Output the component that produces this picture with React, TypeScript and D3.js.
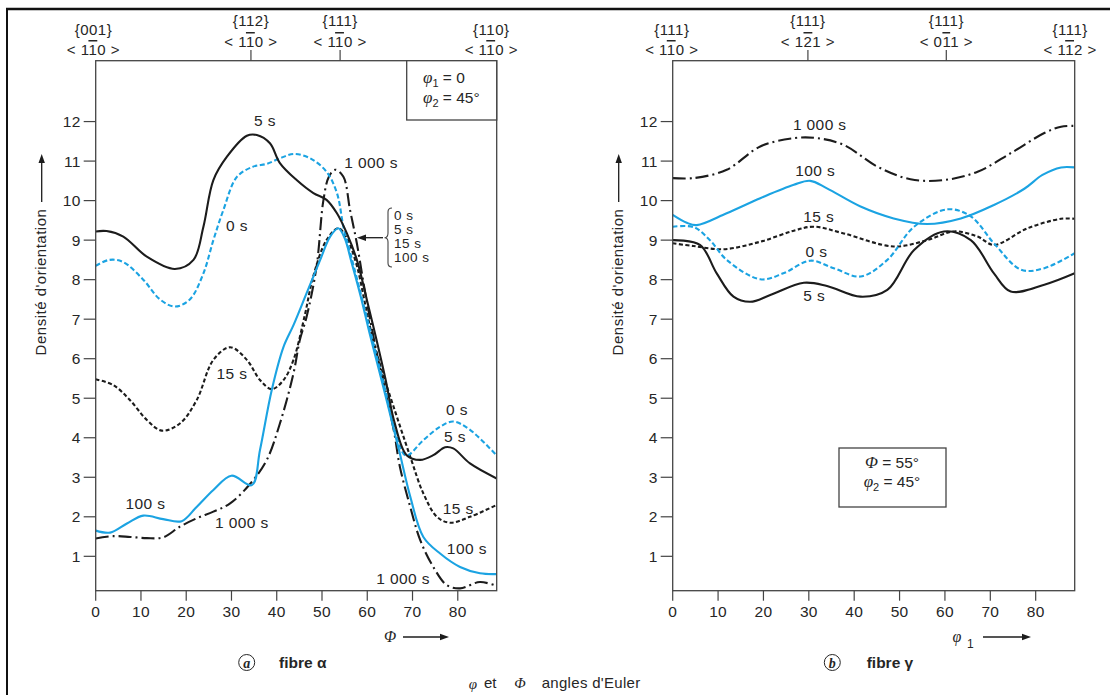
import React from "react";
import * as d3 from "d3";

const FONT = "'Liberation Sans', Arial, Helvetica, sans-serif";
const SERIF = "'Liberation Serif', 'Times New Roman', serif";
const BLUE = "#1ba3e2";
const BLACK = "#1c1c1c";
const AXIS = "#444";
const TXT = "#262626";

type Pt = [number, number];

const xTickValues = [0, 10, 20, 30, 40, 50, 60, 70, 80];
const yTickValues = [1, 2, 3, 4, 5, 6, 7, 8, 9, 10, 11, 12];

// ---- Panel (a) fibre alpha : density vs PHI ----
const alpha0s: Pt[] = [[0,8.35],[3,8.5],[6,8.45],[10.5,8.0],[14.2,7.5],[17.5,7.32],[20.8,7.5],[23.8,8.16],[26,9.0],[28.2,9.76],[31.2,10.6],[34.8,10.86],[37.8,10.93],[40.7,11.07],[43.7,11.18],[47.4,11.07],[51,10.73],[53.3,10.19],[54.8,9.3],[56.2,8.7],[58,7.9],[60,7.0],[62,6.1],[64,5.2],[66,4.3],[68.5,3.55],[72.4,3.94],[76.1,4.28],[79,4.41],[82.7,4.2],[88.6,3.55]];
const alpha5s: Pt[] = [[0,9.22],[2.4,9.23],[6.1,9.09],[11.3,8.58],[17.5,8.27],[21.6,8.5],[23.8,9.34],[26,10.52],[29,11.11],[33.4,11.64],[35.6,11.66],[38.5,11.45],[40.7,10.95],[44.4,10.52],[48.1,10.19],[51,10.02],[53.3,9.68],[55.5,9.17],[57.7,8.5],[60,7.45],[62,6.5],[64,5.5],[66,4.4],[68.7,3.56],[71.7,3.44],[74.6,3.56],[77.2,3.76],[79,3.73],[82.7,3.35],[88.6,2.97]];
const alpha15s: Pt[] = [[0,5.48],[3.9,5.33],[7.6,4.95],[11.3,4.45],[14.6,4.18],[18.6,4.36],[22.3,4.95],[26,5.97],[29.7,6.29],[33.4,5.97],[36.3,5.46],[38.9,5.23],[41.5,5.46],[43.7,5.97],[46.2,7.1],[48.1,8.1],[51,9.0],[53.6,9.3],[55.5,9.05],[57.7,8.35],[59.5,7.4],[61.3,6.47],[63.5,5.6],[65.8,4.79],[69.5,3.52],[72.4,2.59],[75.4,2.0],[78.3,1.85],[82.7,2.0],[88.6,2.3]];
const alpha100s: Pt[] = [[0,1.65],[3.2,1.6],[6.9,1.83],[10.5,2.03],[14.9,1.94],[19,1.89],[22.3,2.25],[26,2.68],[30,3.04],[34.5,2.8],[36.3,3.69],[38.9,5.21],[41.5,6.3],[43.7,6.85],[46.6,7.66],[49.6,8.5],[51.8,9.09],[53.6,9.3],[55,9.05],[56.5,8.45],[58.5,7.6],[60.5,6.65],[62.5,5.75],[64.5,4.85],[66,4.15],[67.2,3.6],[69.5,2.51],[72.4,1.49],[76.1,1.07],[80.5,0.73],[84.9,0.57],[88.6,0.55]];
const alpha1000s: Pt[] = [[0,1.45],[3.9,1.51],[7.6,1.49],[11.3,1.46],[14.9,1.48],[18.6,1.75],[22.3,1.96],[26,2.13],[29.7,2.34],[34.1,2.83],[37.8,3.44],[40.7,4.36],[43.7,5.63],[45.1,6.47],[46.6,7.06],[48.8,8.33],[50.3,10.0],[51.5,10.6],[52.9,10.78],[54.7,10.61],[56.2,9.76],[57.7,8.92],[59.5,7.7],[62,6.2],[64,5.2],[66,4.1],[67.2,3.27],[69.5,2.25],[71.7,1.41],[74.6,0.73],[77.6,0.27],[80.5,0.19],[84.9,0.35],[88.6,0.25]];

// ---- Panel (b) fibre gamma : density vs phi1 ----
const gamma0s: Pt[] = [[0,9.34],[4.6,9.33],[8.2,9.0],[11.9,8.5],[19.3,8.01],[24.4,8.16],[30.3,8.48],[35.5,8.29],[41.4,8.08],[47.3,8.5],[53.2,9.34],[60.6,9.78],[65.7,9.6],[70.8,8.92],[76.8,8.25],[81.9,8.29],[88.6,8.67]];
const gamma5s: Pt[] = [[0,9.0],[6,8.88],[9.7,8.16],[13.4,7.57],[17.1,7.44],[21.5,7.61],[28.9,7.92],[34,7.84],[41.4,7.57],[47.3,7.74],[53.2,8.75],[59.8,9.22],[65.7,9.0],[70.8,8.16],[74.5,7.7],[81.9,7.87],[88.6,8.16]];
const gamma15s: Pt[] = [[0,8.92],[4.6,8.85],[11.2,8.77],[19.3,8.96],[26.7,9.24],[31.1,9.34],[37.7,9.17],[48.7,8.84],[56.1,9.0],[62,9.22],[67.2,9.09],[70.8,8.88],[78.2,9.3],[85.6,9.54],[88.6,9.54]];
const gamma100s: Pt[] = [[0,9.64],[3.1,9.44],[5.3,9.38],[11.9,9.68],[19.3,10.06],[26.7,10.4],[30.3,10.5],[34,10.31],[41.4,9.85],[48.7,9.55],[56.1,9.41],[63.5,9.55],[70.8,9.89],[77.5,10.3],[81.5,10.65],[85.6,10.84],[88.6,10.84]];
const gamma1000s: Pt[] = [[0,10.57],[4.6,10.57],[11.9,10.78],[19.3,11.37],[26.7,11.58],[31.8,11.58],[37.7,11.41],[45.1,10.86],[52.4,10.54],[59.8,10.52],[67.2,10.73],[74.5,11.2],[81.9,11.71],[85.6,11.87],[88.6,11.89]];

// top orientation labels: [hkl, uvw before bar, barred digit, after bar, angle, has tick]
const topLabelsA: [string, string, string, string, number, boolean][] = [
  ["{001}", "< 1", "1", "0 >", -0.5, false],
  ["{112}", "< 1", "1", "0 >", 34.3, true],
  ["{111}", "< 1", "1", "0 >", 54.0, true],
  ["{110}", "< 1", "1", "0 >", 87.4, false],
];
const topLabelsB: [string, string, string, string, number, boolean][] = [
  ["{111}", "< 1", "1", "0 >", -0.2, false],
  ["{111}", "< 1", "2", "1 >", 29.8, true],
  ["{111}", "< 0", "1", "1 >", 60.3, true],
  ["{111}", "< 1", "1", "2 >", 87.6, false],
];

// curve annotations: [text, angle, density, anchor]
const labelsA: [string, number, number, string][] = [
  ["5 s", 37.4, 11.89, "middle"],
  ["0 s", 31.2, 9.23, "middle"],
  ["1 000 s", 54.9, 10.83, "start"],
  ["15 s", 30.1, 5.49, "middle"],
  ["100 s", 11.0, 2.2, "middle"],
  ["1 000 s", 32.3, 1.72, "middle"],
  ["0 s", 79.8, 4.57, "middle"],
  ["5 s", 79.4, 3.9, "middle"],
  ["15 s", 80.1, 2.08, "middle"],
  ["100 s", 82.0, 1.05, "middle"],
  ["1 000 s", 67.9, 0.3, "middle"],
];
const labelsB: [string, number, number, string][] = [
  ["1 000 s", 32.4, 11.79, "middle"],
  ["100 s", 31.4, 10.63, "middle"],
  ["15 s", 32.2, 9.46, "middle"],
  ["0 s", 31.7, 8.57, "middle"],
  ["5 s", 31.2, 7.46, "middle"],
];
const groupLabels = ["0 s", "5 s", "15 s", "100 s"];

const lineStyle: Record<string, { color: string; dash?: string }> = {
  "0 s": { color: BLUE, dash: "5,2.6" },
  "5 s": { color: BLACK },
  "15 s": { color: BLACK, dash: "4,2.4" },
  "100 s": { color: BLUE },
  "1 000 s": { color: BLACK, dash: "13,4,2,4" },
};

const Y_TOP = 60.7;
const Y_BOT = 590.7;
const yScale = d3.scaleLinear().domain([0.13, 13.54]).range([Y_BOT, Y_TOP]);

function Arrow({ x1, y1, x2, y2 }: { x1: number; y1: number; x2: number; y2: number }) {
  const ang = Math.atan2(y2 - y1, x2 - x1);
  const L = 9, W = 3.2;
  const bx = x2 - L * Math.cos(ang), by = y2 - L * Math.sin(ang);
  const p = `${x2},${y2} ${bx - W * Math.sin(ang)},${by + W * Math.cos(ang)} ${bx + W * Math.sin(ang)},${by - W * Math.cos(ang)}`;
  return (
    <g>
      <line x1={x1} y1={y1} x2={bx} y2={by} stroke={BLACK} strokeWidth={1.3} />
      <polygon points={p} fill={BLACK} />
    </g>
  );
}

function Panel({ x0, x1, series, topLabels, labels, clipId }: any) {
  const xScale = d3.scaleLinear().domain([0, 88.6]).range([x0, x1]);
  const line = d3
    .line<Pt>()
    .x((d) => xScale(d[0]))
    .y((d) => yScale(d[1]))
    .curve(d3.curveCatmullRom.alpha(0.5));
  const order = ["1 000 s", "15 s", "0 s", "100 s", "5 s"];
  return (
    <g>
      <defs>
        <clipPath id={clipId}>
          <rect x={x0} y={Y_TOP} width={x1 - x0} height={Y_BOT - Y_TOP} />
        </clipPath>
      </defs>
      <g clipPath={`url(#${clipId})`}>
        {order.map((name) => (
          <path
            key={name}
            d={line(series[name]) || ""}
            fill="none"
            stroke={lineStyle[name].color}
            strokeWidth={2.1}
            strokeDasharray={lineStyle[name].dash}
            strokeLinejoin="round"
          />
        ))}
      </g>
      <rect x={x0} y={Y_TOP} width={x1 - x0} height={Y_BOT - Y_TOP} fill="none" stroke={AXIS} strokeWidth={1.3} />
      {yTickValues.map((v) => (
        <g key={v}>
          <line x1={x0 - 12} x2={x0} y1={yScale(v)} y2={yScale(v)} stroke={AXIS} strokeWidth={1.2} />
          <text x={x0 - 15} y={yScale(v) + 5.5} textAnchor="end" fontSize={15.5} fill={TXT} letterSpacing={0.3}>
            {v}
          </text>
        </g>
      ))}
      {xTickValues.map((v) => (
        <g key={v}>
          <line x1={xScale(v)} x2={xScale(v)} y1={Y_BOT} y2={Y_BOT + 10} stroke={AXIS} strokeWidth={1.2} />
          <text x={xScale(v)} y={Y_BOT + 26} textAnchor="middle" fontSize={15.5} fill={TXT} letterSpacing={0.3}>
            {v}
          </text>
        </g>
      ))}
      {topLabels.map((t: any, i: number) => {
        const cx = xScale(t[4]);
        const mid = t[5];
        const y1 = mid ? 26 : 35;
        const y2 = mid ? 47 : 55;
        return (
          <g key={i}>
            {mid && <line x1={cx} x2={cx} y1={Y_TOP} y2={50} stroke={AXIS} strokeWidth={1.2} />}
            <text x={cx} y={y1} textAnchor="middle" fontSize={15} fill={TXT} letterSpacing={0.5}>
              {t[0]}
            </text>
            <text x={cx} y={y2} textAnchor="middle" fontSize={15} fill={TXT} letterSpacing={0.5}>
              {t[1]}
              <tspan style={{ textDecoration: "overline" }}>{t[2]}</tspan>
              {t[3]}
            </text>
          </g>
        );
      })}
      {labels.map((l: any, i: number) => (
        <text key={i} x={xScale(l[1])} y={yScale(l[2])} textAnchor={l[3]} fontSize={15.5} fill={TXT} letterSpacing={0.4}>
          {l[0]}
        </text>
      ))}
      <g transform={`translate(${x0 - 55},0)`}>
        <text transform="translate(5,282) rotate(-90)" textAnchor="middle" fontSize={15} fill={TXT} letterSpacing={0.5}>
          Densité d'orientation
        </text>
        <Arrow x1={1} y1={202} x2={1} y2={154} />
      </g>
    </g>
  );
}

export default function App() {
  const seriesA: Record<string, Pt[]> = {
    "0 s": alpha0s,
    "5 s": alpha5s,
    "15 s": alpha15s,
    "100 s": alpha100s,
    "1 000 s": alpha1000s,
  };
  const seriesB: Record<string, Pt[]> = {
    "0 s": gamma0s,
    "5 s": gamma5s,
    "15 s": gamma15s,
    "100 s": gamma100s,
    "1 000 s": gamma1000s,
  };
  return (
    <svg width={1110} height={695} style={{ position: "absolute", left: 0, top: 0, background: "white" }} fontFamily={FONT}>
      <rect x={0} y={0} width={1110} height={695} fill="white" />
      <line x1={6} x2={1110} y1={9} y2={9} stroke="#111" strokeWidth={2.5} />
      <line x1={7} x2={7} y1={8} y2={695} stroke="#111" strokeWidth={2} />

      <Panel x0={95.7} x1={496.7} series={seriesA} topLabels={topLabelsA} labels={labelsA} clipId="clipA" />
      <Panel x0={672.7} x1={1074.7} series={seriesB} topLabels={topLabelsB} labels={labelsB} clipId="clipB" />

      <rect x={406.7} y={60.7} width={90} height={59.3} fill="white" stroke={AXIS} strokeWidth={1.3} />
      <text x={423} y={83} fontSize={15.5} fill={TXT}>
        <tspan fontFamily={SERIF} fontStyle="italic" fontSize={17}>φ</tspan>
        <tspan fontSize={11} dy={4}>1</tspan>
        <tspan dy={-4}> = 0</tspan>
      </text>
      <text x={423} y={103} fontSize={15.5} fill={TXT}>
        <tspan fontFamily={SERIF} fontStyle="italic" fontSize={17}>φ</tspan>
        <tspan fontSize={11} dy={4}>2</tspan>
        <tspan dy={-4}> = 45°</tspan>
      </text>

      <path
        d="M392,208 Q388,208 388,212 L388,233 Q388,237.7 384.5,237.7 Q388,237.7 388,242 L388,263 Q388,267 392,267"
        fill="none"
        stroke={AXIS}
        strokeWidth={1.1}
      />
      <Arrow x1={383} y1={237.7} x2={357} y2={237.7} />
      {groupLabels.map((g, i) => (
        <text key={g} x={394} y={219.5 + i * 14.3} fontSize={13.5} fill={TXT} letterSpacing={0.5}>
          {g}
        </text>
      ))}

      <rect x={839} y={448} width={107} height={59} fill="white" stroke={AXIS} strokeWidth={1.3} />
      <text x={892} y={468} fontSize={15.5} fill={TXT} textAnchor="middle">
        <tspan fontFamily={SERIF} fontStyle="italic" fontSize={17}>Φ</tspan>
        <tspan> = 55°</tspan>
      </text>
      <text x={892} y={487} fontSize={15.5} fill={TXT} textAnchor="middle">
        <tspan fontFamily={SERIF} fontStyle="italic" fontSize={17}>φ</tspan>
        <tspan fontSize={11} dy={4}>2</tspan>
        <tspan dy={-4}> = 45°</tspan>
      </text>

      <text x={390} y={642} fontSize={16} fontFamily={SERIF} fontStyle="italic" textAnchor="middle" fill={TXT}>
        Φ
      </text>
      <Arrow x1={403} y1={637} x2={449} y2={637} />
      <text x={957} y={642} fontSize={16} fontFamily={SERIF} fontStyle="italic" textAnchor="middle" fill={TXT}>
        φ
      </text>
      <text x={967} y={648} fontSize={12} fill={TXT}>
        1
      </text>
      <Arrow x1={983} y1={637} x2={1031} y2={637} />

      <circle cx={246.7} cy={662.5} r={8} fill="none" stroke={TXT} strokeWidth={1} />
      <text x={246.7} y={667.5} fontSize={14} fontFamily={SERIF} fontStyle="italic" fontWeight="bold" textAnchor="middle" fill={TXT}>
        a
      </text>
      <text x={279} y={668} fontSize={15.5} fontWeight="bold" fill={TXT}>
        fibre α
      </text>
      <circle cx={832.3} cy={662.5} r={8} fill="none" stroke={TXT} strokeWidth={1} />
      <text x={832.3} y={667.5} fontSize={14} fontFamily={SERIF} fontStyle="italic" fontWeight="bold" textAnchor="middle" fill={TXT}>
        b
      </text>
      <text x={866.7} y={668} fontSize={15.5} fontWeight="bold" fill={TXT}>
        fibre γ
      </text>

      <text x={473} y={689} fontSize={15} fontFamily={SERIF} fontStyle="italic" textAnchor="middle" fill={TXT}>
        φ
      </text>
      <text x={484} y={688} fontSize={15} fill={TXT}>
        et
      </text>
      <text x={520} y={688} fontSize={15} fontFamily={SERIF} fontStyle="italic" textAnchor="middle" fill={TXT}>
        Φ
      </text>
      <text x={541.7} y={688} fontSize={15} fill={TXT} letterSpacing={0.3}>
        angles d'Euler
      </text>
    </svg>
  );
}
